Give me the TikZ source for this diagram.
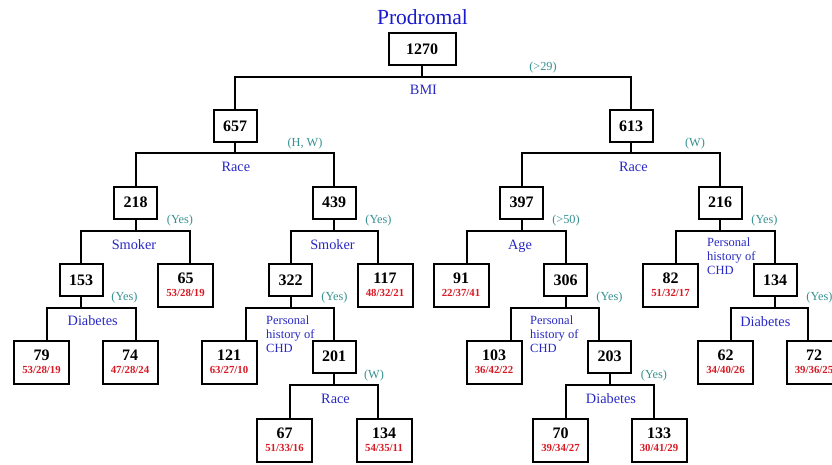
\documentclass[tikz,border=0pt]{standalone}
\usepackage{fontspec}
\setmainfont{Liberation Serif}
\definecolor{titleblue}{RGB}{25,25,205}
\definecolor{splitblue}{RGB}{40,40,195}
\definecolor{condteal}{RGB}{55,145,145}
\definecolor{mixred}{RGB}{215,25,35}
\newcommand{\mix}[1]{{\fontsize{10.8}{13}\selectfont\color{mixred}#1}}
\tikzset{
  edge/.style={line width=2pt},
  inner/.style={draw, line width=2pt, minimum width=43pt, minimum height=32pt,
    inner sep=0pt, font=\fontsize{16}{16}\selectfont\bfseries},
  leaf/.style={draw, line width=2pt, minimum width=55pt, minimum height=43pt,
    inner sep=0pt, align=center, font=\fontsize{16}{13}\selectfont\bfseries},
  split/.style={text=splitblue, inner sep=0pt, anchor=base,
    font=\fontsize{14.3}{16}\selectfont},
  history/.style={text=splitblue, inner sep=0pt, anchor=north west, align=left,
    font=\fontsize{12.5}{14}\selectfont},
  cond/.style={text=condteal, inner sep=0pt, font=\fontsize{12.3}{14}\selectfont},
}
\begin{document}
\begin{tikzpicture}[x=1pt, y=-1pt]
    \useasboundingbox (0,0) rectangle (832,464);
    \clip (0,0) rectangle (832,464);
    % Title and root
    \node[text=titleblue, inner sep=0pt, font=\fontsize{21.5}{24}\selectfont] (title) at (422.5,17.5) {Prodromal};
    \node[inner, minimum width=67pt] (n1270) at (422,49) {1270};
    % First split: BMI
    \node[inner] (n657) at (235,126) {657};
    \node[inner] (n613) at (631,126) {613};
    \draw[edge] (n1270.south) -- ++(0,11) coordinate (b1270);
    \draw[edge] (n657.north) |- (b1270) -| (n613.north);
    \node[split] (bmi) at (423.5,94.3) {BMI};
    \node[cond] (c1270) at (543,68) {(>29)};
    % Left branch: Race
    \node[inner] (n218) at (135.5,202.5) {218};
    \node[inner] (n439) at (334,202.5) {439};
    \draw[edge] (n657.south) -- ++(0,10) coordinate (b657);
    \draw[edge] (n218.north) |- (b657) -| (n439.north);
    \node[split] (race657) at (235.8,171.5) {Race};
    \node[cond] (c657) at (305,144) {(H, W)};
    % Right branch: Race
    \node[inner] (n397) at (521.5,202.5) {397};
    \node[inner] (n216) at (720,202.5) {216};
    \draw[edge] (n613.south) -- ++(0,10) coordinate (b613);
    \draw[edge] (n397.north) |- (b613) -| (n216.north);
    \node[split] (race613) at (633.3,171.5) {Race};
    \node[cond] (c613) at (695,144) {(W)};
    % Smoker under 218
    \node[inner] (n153) at (81,280) {153};
    \node[leaf] (n65) at (185.5,285) {65\\\mix{53/28/19}};
    \draw[edge] (n218.south) -- ++(0,11) coordinate (b218);
    \draw[edge] (n153.north) |- (b218) -| ([xshift=4.5pt]n65.north);
    \node[split] (smk218) at (134,249.3) {Smoker};
    \node[cond] (c218) at (180,220.5) {(Yes)};
    % Smoker under 439
    \node[inner] (n322) at (290.5,280) {322};
    \node[leaf] (n117) at (385,285) {117\\\mix{48/32/21}};
    \draw[edge] (n439.south) -- ++(0,11) coordinate (b439);
    \draw[edge] (n322.north) |- (b439) -| ([xshift=-7pt]n117.north);
    \node[split] (smk439) at (332.5,249.3) {Smoker};
    \node[cond] (c439) at (378.5,220.5) {(Yes)};
    % Age under 397
    \node[leaf] (n91) at (461,285) {91\\\mix{22/37/41}};
    \node[inner] (n306) at (565.5,280) {306};
    \draw[edge] (n397.south) -- ++(0,11) coordinate (b397);
    \draw[edge] ([xshift=6pt]n91.north) |- (b397) -| (n306.north);
    \node[split] (age397) at (520,249.3) {Age};
    \node[cond] (c397) at (566,220.5) {(>50)};
    % Personal history under 216
    \node[leaf] (n82) at (670.5,285) {82\\\mix{51/32/17}};
    \node[inner] (n134) at (775,280) {134};
    \draw[edge] (n216.south) -- ++(0,11) coordinate (b216);
    \draw[edge] ([xshift=5.5pt]n82.north) |- (b216) -| (n134.north);
    \node[history] (chd216) at (707,237.5) {Personal\\history of\\CHD};
    \node[cond] (c216) at (764.5,220.5) {(Yes)};
    % Diabetes under 153
    \node[leaf] (n79) at (41.5,362) {79\\\mix{53/28/19}};
    \node[leaf] (n74) at (130,362) {74\\\mix{47/28/24}};
    \draw[edge] (n153.south) -- ++(0,10.5) coordinate (b153);
    \draw[edge] ([xshift=5.5pt]n79.north) |- (b153) -| ([xshift=6pt]n74.north);
    \node[split] (dia153) at (92.7,325.7) {Diabetes};
    \node[cond] (c153) at (124.5,298) {(Yes)};
    % Personal history under 322
    \node[leaf] (n121) at (229,362) {121\\\mix{63/27/10}};
    \node[inner] (n201) at (334,356.5) {201};
    \draw[edge] (n322.south) -- ++(0,10.5) coordinate (b322);
    \draw[edge] ([xshift=17pt]n121.north) |- (b322) -| (n201.north);
    \node[history] (chd322) at (266,315.5) {Personal\\history of\\CHD};
    \node[cond] (c322) at (334.5,298) {(Yes)};
    % Personal history under 306
    \node[leaf] (n103) at (494,362) {103\\\mix{36/42/22}};
    \node[inner] (n203) at (609.5,356.5) {203};
    \draw[edge] (n306.south) -- ++(0,10.5) coordinate (b306);
    \draw[edge] ([xshift=17pt]n103.north) |- (b306) -| ([xshift=-10.5pt]n203.north);
    \node[history] (chd306) at (530,315.5) {Personal\\history of\\CHD};
    \node[cond] (c306) at (609.5,298) {(Yes)};
    % Diabetes under 134
    \node[leaf] (n62) at (725.5,362) {62\\\mix{34/40/26}};
    \node[leaf] (n72) at (814,362) {72\\\mix{39/36/25}};
    \draw[edge] (n134.south) -- ++(0,10.5) coordinate (b134);
    \draw[edge] ([xshift=5.5pt]n62.north) |- (b134) -| ([xshift=-6pt]n72.north);
    \node[split] (dia134) at (765.3,326) {Diabetes};
    \node[cond] (c134) at (819.5,298) {(Yes)};
    % Race under 201
    \node[leaf] (n67) at (284.5,440) {67\\\mix{51/33/16}};
    \node[leaf] (n134b) at (384,440) {134\\\mix{54/35/11}};
    \draw[edge] (n201.south) -- ++(0,11) coordinate (b201);
    \draw[edge] ([xshift=5.5pt]n67.north) |- (b201) -| ([xshift=-6pt]n134b.north);
    \node[split] (race201) at (335.5,403.3) {Race};
    \node[cond] (c201) at (374,375.5) {(W)};
    % Diabetes under 203
    \node[leaf] (n70) at (560.5,440) {70\\\mix{39/34/27}};
    \node[leaf] (n133) at (659,440) {133\\\mix{30/41/29}};
    \draw[edge] (n203.south) -- ++(0,11) coordinate (b203);
    \draw[edge] ([xshift=5.5pt]n70.north) |- (b203) -| ([xshift=-5pt]n133.north);
    \node[split] (dia203) at (611,403.3) {Diabetes};
    \node[cond] (c203) at (654,375.5) {(Yes)};
\end{tikzpicture}
\end{document}
